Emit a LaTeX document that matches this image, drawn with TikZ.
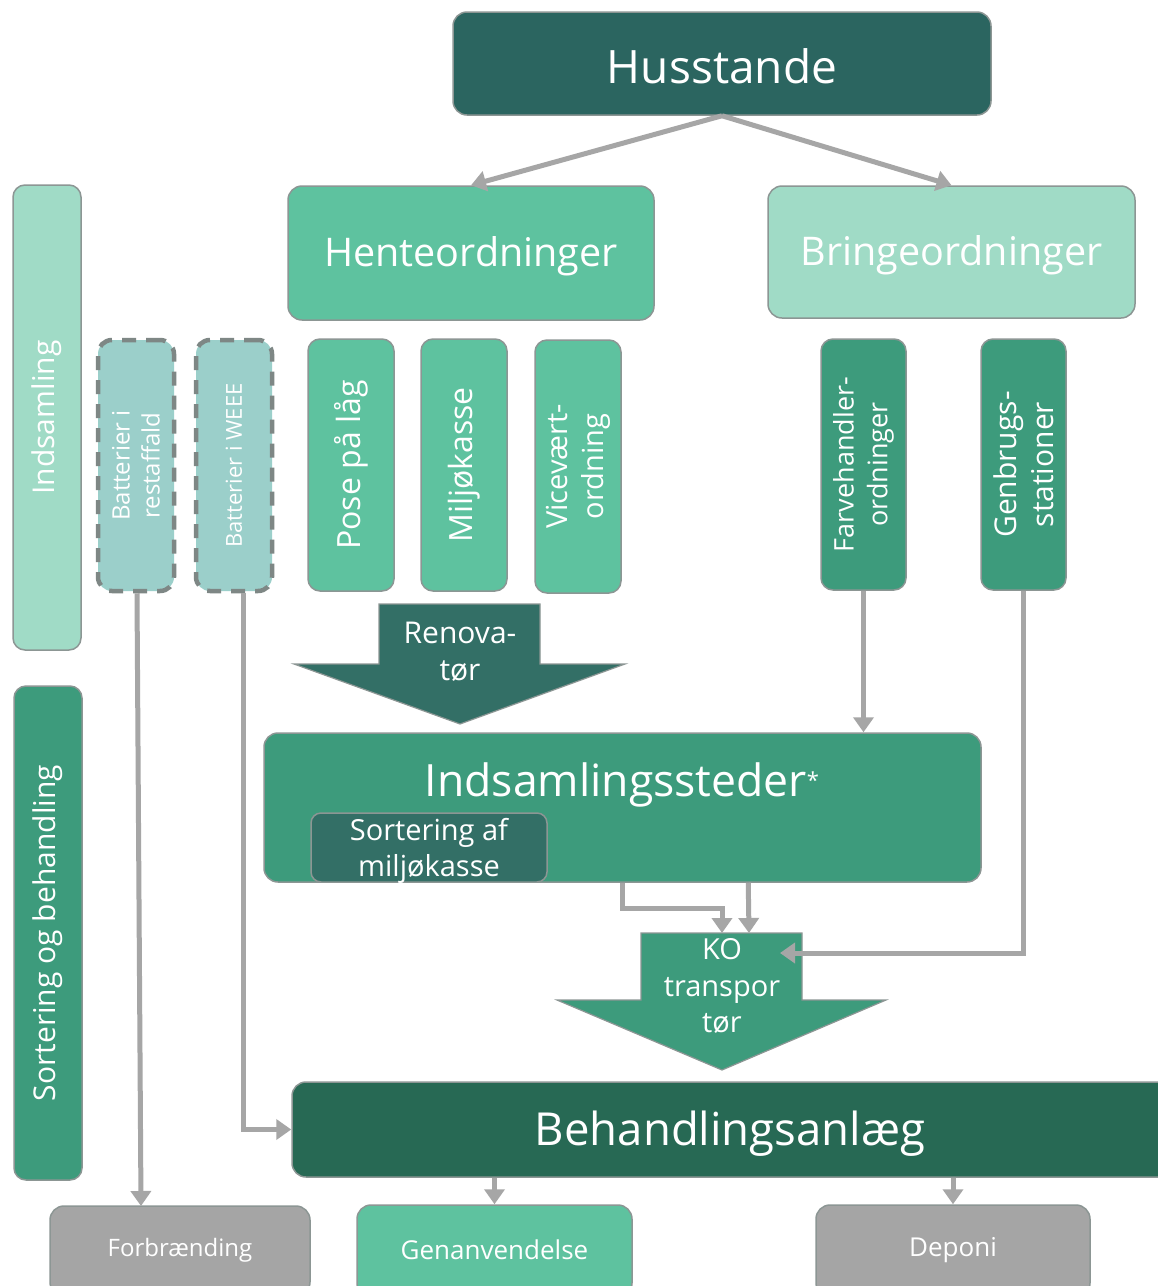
\documentclass[tikz,border=0pt]{standalone}
\usepackage{fontspec}
\setmainfont{Open Sans}
\usetikzlibrary{arrows.meta,calc}
\definecolor{cHus}{HTML}{2B6560}
\definecolor{cMid}{HTML}{5EC29F}
\definecolor{cLight}{HTML}{A0DBC6}
\definecolor{cBat}{HTML}{9BCFCA}
\definecolor{cDeep}{HTML}{3D9B7C}
\definecolor{cDark}{HTML}{336F66}
\definecolor{cBeh}{HTML}{276954}
\definecolor{cGray}{HTML}{A5A5A5}
\definecolor{cBorder}{HTML}{8C9694}
\definecolor{cLine}{HTML}{A6A6A6}
\newcommand\fs[2][1.25]{\fontsize{#2pt}{\fpeval{#1*#2}pt}\selectfont}
\tikzset{
  box/.style={draw=cBorder, line width=1.5pt, rounded corners=14pt, text=white, align=center, inner sep=0pt},
  vbox/.style={box, rounded corners=12pt},
  dbox/.style={draw=cBorder!90!black, line width=4.5pt, dash pattern=on 14pt off 10pt, rounded corners=14pt, fill=cBat, text=white, align=center, inner sep=0pt},
  rot/.style={rotate=90, text=white, align=center, inner sep=0pt},
  conn/.style={draw=cLine, line width=5pt, -{Triangle[width=20pt,length=15pt]}},
  bigarrow/.style={draw=cBorder, line width=1.2pt},
  lbl/.style={text=white, align=center, inner sep=0pt}
}
\begin{document}
\begin{tikzpicture}[x=1pt,y=-1pt]
\useasboundingbox (0,0) rectangle (1158,1286);
\fill[white] (0,0) rectangle (1158,1286);

% top
\node[box, fill=cHus, minimum width=538pt, minimum height=103pt] (hus) at (722,63.5) {};
\node[lbl, font=\fs{46}] (hust) at (722,66) {Husstande};
\node[box, fill=cMid, minimum width=366pt, minimum height=134pt] (hente) at (471,253) {};
\node[lbl, font=\fs{39.5}] (hentet) at (471,256) {Henteordninger};
\node[box, fill=cLight, minimum width=367pt, minimum height=132pt] (bringe) at (951.5,252) {};
\node[lbl, font=\fs{39.5}] (bringet) at (951.5,255) {Bringeordninger};

% side labels
\node[vbox, fill=cLight, minimum width=68pt, minimum height=465pt] (indl) at (47,417.5) {};
\node[rot, font=\fs{30}] (indlt) at (indl.center) {Indsamling};
\node[vbox, fill=cDeep, minimum width=68pt, minimum height=494pt] (sortl) at (48,933) {};
\node[rot, font=\fs{30}] (sortlt) at (sortl.center) {Sortering og behandling};

% battery boxes
\node[dbox, minimum width=76pt, minimum height=251pt] (batR) at (136,465.5) {};
\node[rot, font=\fs{24}] (batRt) at (batR.center) {Batterier i\\restaffald};
\node[dbox, minimum width=76pt, minimum height=251pt] (batW) at (234,465.5) {};
\node[rot, font=\fs{22}] (batWt) at (batW.center) {Batterier i WEEE};

% hente sub boxes
\node[vbox, fill=cMid, minimum width=86pt, minimum height=252pt] (pose) at (351,465) {};
\node[rot, font=\fs{32}] (poset) at (pose.center) {Pose på låg};
\node[vbox, fill=cMid, minimum width=86pt, minimum height=252pt] (milj) at (464,465) {};
\node[rot, font=\fs{32}] (miljt) at (milj.center) {Miljøkasse};
\node[vbox, fill=cMid, minimum width=86pt, minimum height=253pt] (vice) at (578,466.5) {};
\node[rot, font=\fs{29}] (vicet) at (vice.center) {Vicevært-\\ordning};

% bringe sub boxes
\node[vbox, fill=cDeep, minimum width=85pt, minimum height=251pt] (farve) at (863.5,464.5) {};
\node[rot, font=\fs{27}] (farvet) at (farve.center) {Farvehandler-\\ordninger};
\node[vbox, fill=cDeep, minimum width=85pt, minimum height=251pt] (genb) at (1023.5,464.5) {};
\node[rot, font=\fs{30}] (genbt) at (genb.center) {Genbrugs-\\stationer};

% Renovatoer arrow
\filldraw[bigarrow, fill=cDark] (379,604) -- (540,604) -- (540,664) -- (625,664) -- (460,724) -- (294,664) -- (379,664) -- cycle;
\node[lbl, font=\fs{30}] (renov) at (460,652) {Renova-\\tør};

% Indsamlingssteder
\node[box, fill=cDeep, minimum width=717pt, minimum height=149pt] (ist) at (622.5,807.5) {};
\node[lbl, anchor=base, font=\fs{44.5}] (istt) at (622,796) {Indsamlingssteder\raisebox{8pt}{\fs{22}*}};
\node[box, rounded corners=10pt, fill=cDark, minimum width=236pt, minimum height=69pt] (sorta) at (429,847.5) {};
\node[lbl, font=\fs{29}] (sortat) at (429,851) {Sortering af\\miljøkasse};

% KO arrow
\filldraw[bigarrow, fill=cDeep] (641,933) -- (802,933) -- (802,1000) -- (886,1000) -- (722,1070) -- (557,1000) -- (641,1000) -- cycle;
\node[lbl, font=\fs{29}] (ko) at (722,986) {KO\\transpor\\tør};

% Behandlingsanlaeg
\node[box, fill=cBeh, minimum width=880pt, minimum height=95pt] (beh) at (732,1129.5) {};
\node[lbl, font=\fs{45.5}] (beht) at (730,1134) {Behandlingsanlæg};

% bottom boxes
\node[box, fill=cGray, minimum width=260pt, minimum height=90pt] (forb) at (180,1251) {};
\node[lbl, font=\fs{24}] (forbt) at (180,1250) {Forbrænding};
\node[box, fill=cMid, minimum width=275pt, minimum height=92pt] (genan) at (494.5,1251) {};
\node[lbl, font=\fs{26}] (genant) at (494.5,1250) {Genanvendelse};
\node[box, fill=cGray, minimum width=274pt, minimum height=92pt] (depo) at (953,1251) {};
\node[lbl, font=\fs{26}] (depot) at (953,1250) {Deponi};

% coordinates for connector ends
\coordinate (forbIn) at (141,1206);
\coordinate (koR) at (780,953);
\coordinate (koT1) at (722,933);
\coordinate (koT2) at (749,933);

% connectors
\draw[conn] (hus.south) -- (hente.north);
\draw[conn] (hus.south) -- (bringe.north);
\draw[conn] ($(batR.south)+(1,0)$) -- (forbIn);
\draw[conn] ($(batW.south)+(9,0)$) |- (beh.west);
\draw[conn] (farve.south) -- (farve.south |- ist.north);
\draw[conn] (genb.south) |- (koR);
\draw[conn] ($(ist.south west)+(359,0)$) |- ($(koT1)+(0,-25)$) -- (koT1);
\draw[conn] ($(ist.south west)+(485,0)$) -- (koT2);
\draw[conn] (genan.north |- beh.south) -- (genan.north);
\draw[conn] (depo.north |- beh.south) -- (depo.north);
\end{tikzpicture}
\end{document}
